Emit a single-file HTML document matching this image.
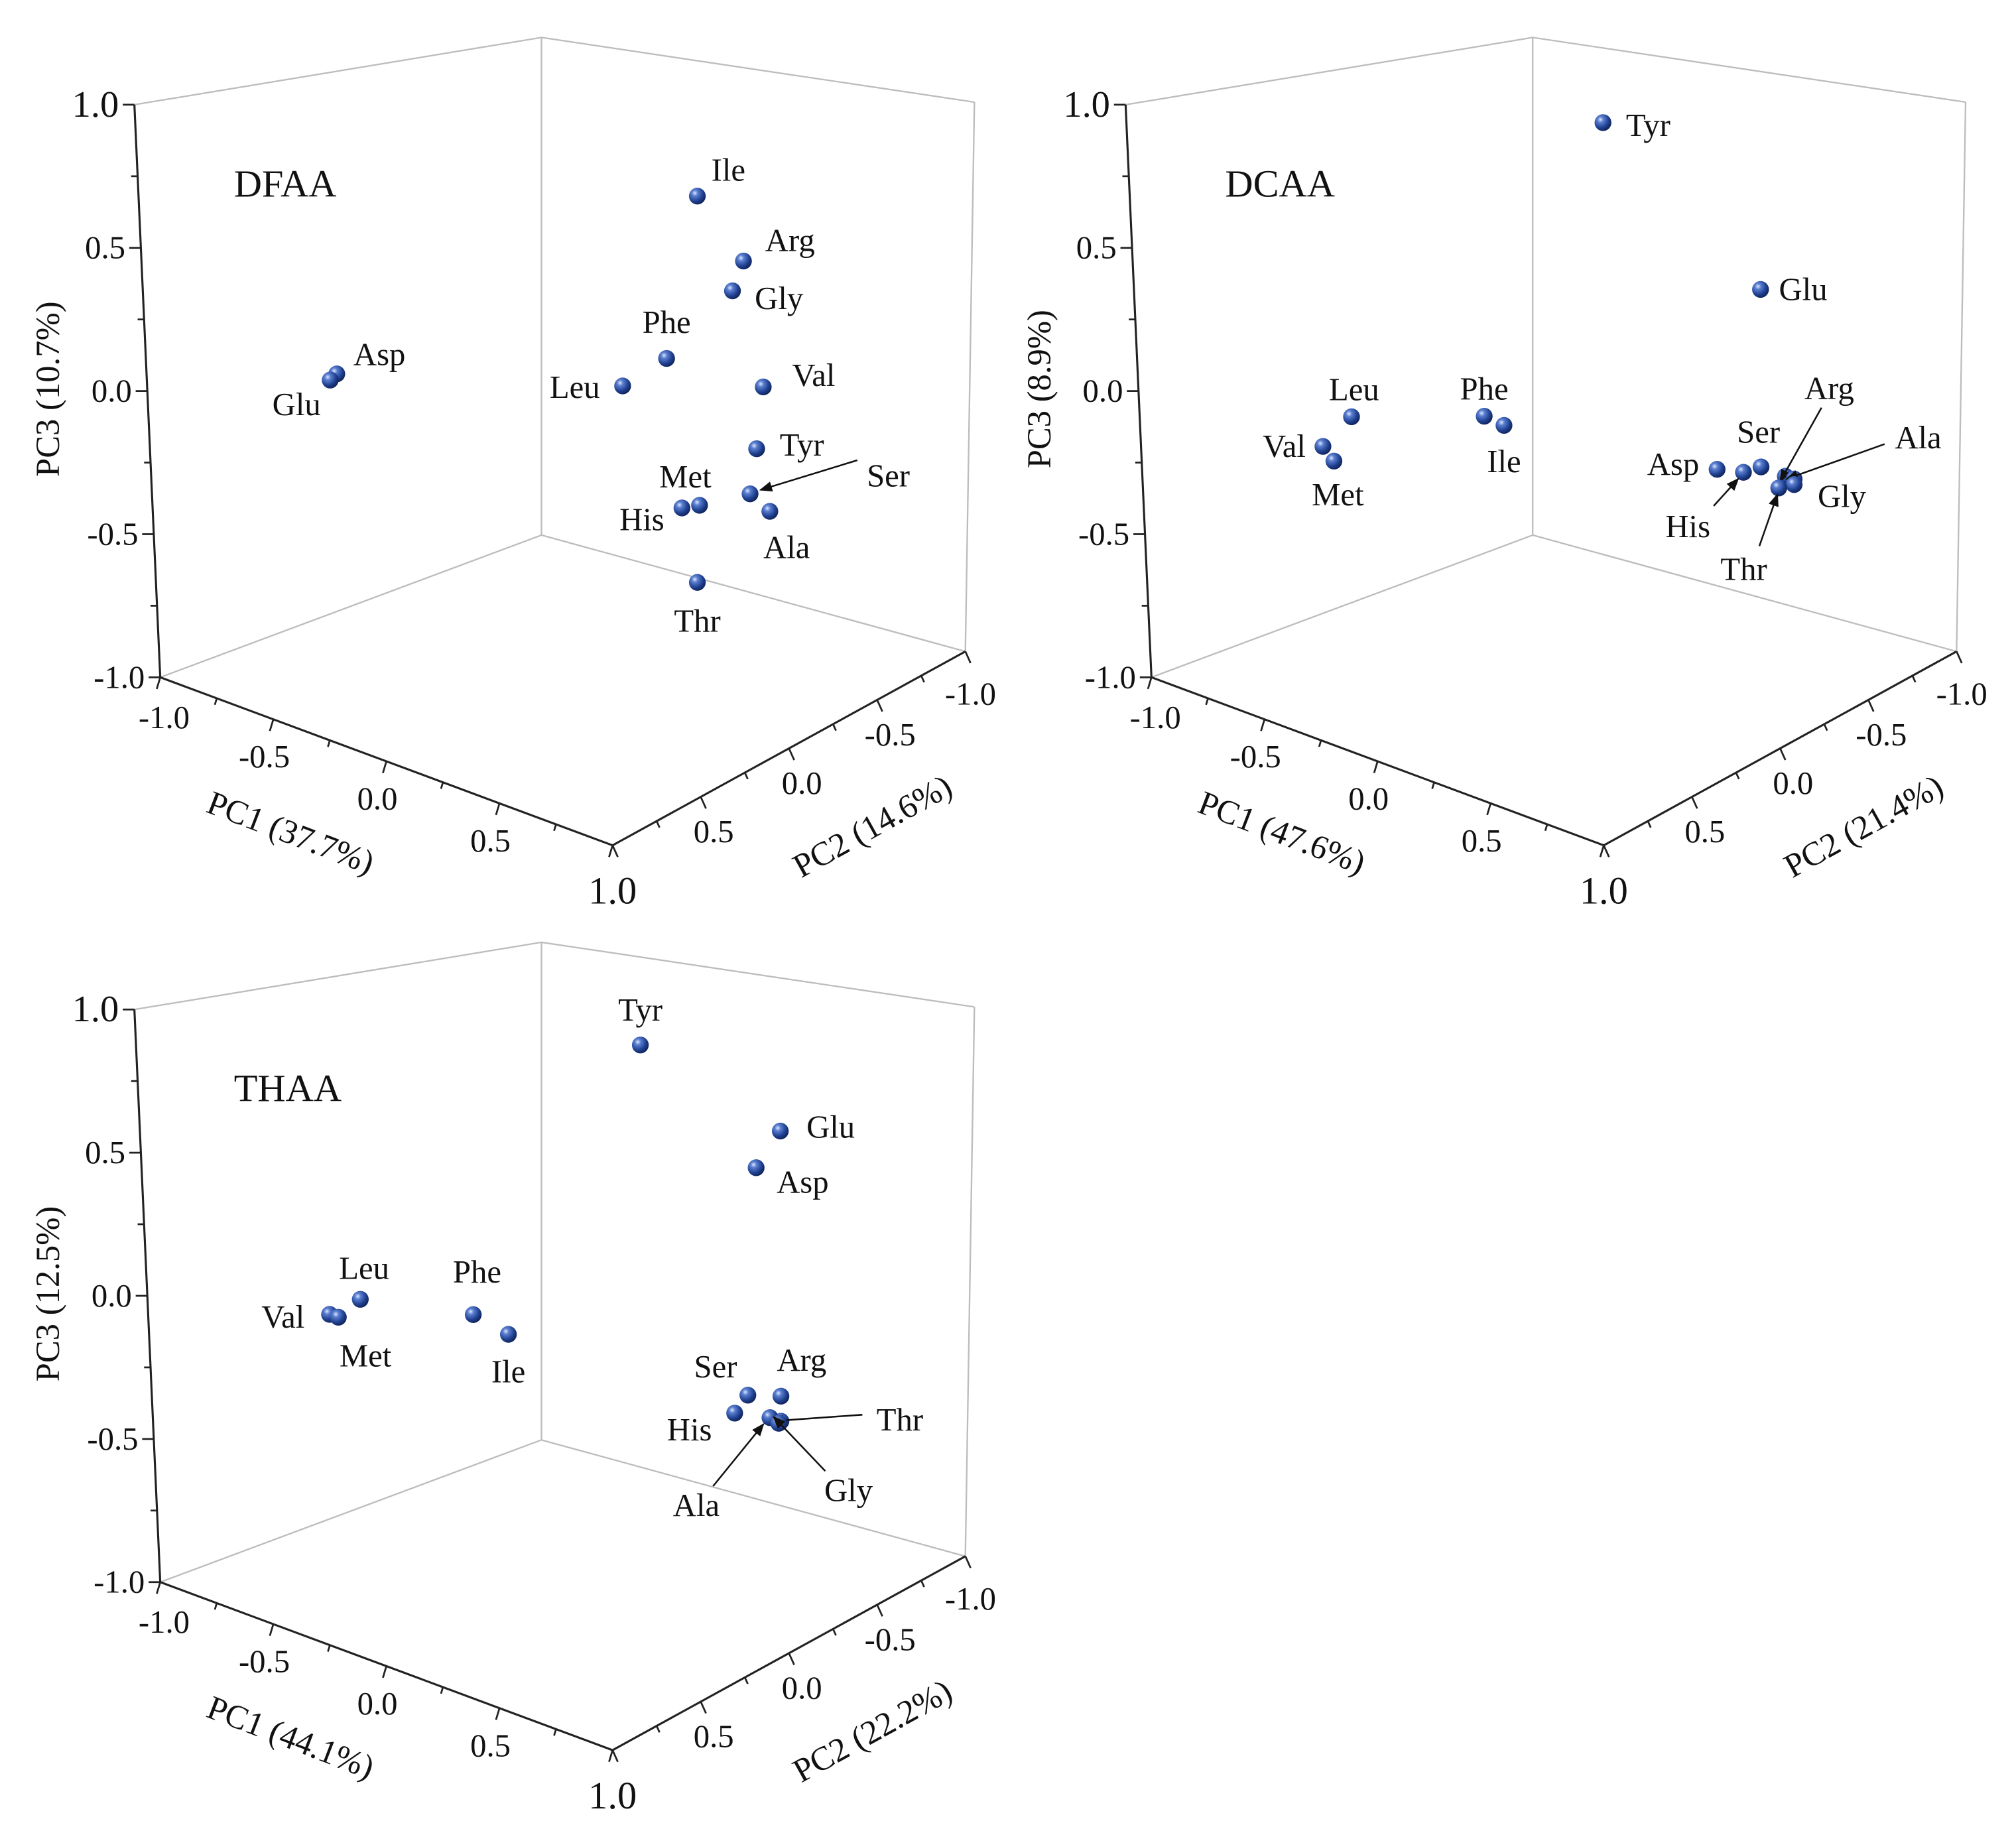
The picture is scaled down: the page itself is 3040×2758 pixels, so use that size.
<!DOCTYPE html>
<html><head><meta charset="utf-8"><style>
html,body{margin:0;padding:0;background:#fff}
svg{display:block}
text{font-family:"Liberation Serif",serif;fill:#111}
</style></head><body>
<svg id="chart" width="3040" height="2758" viewBox="0 0 1560 1415" preserveAspectRatio="none" xmlns="http://www.w3.org/2000/svg">
<defs>
<radialGradient id="sph" cx="0.35" cy="0.32" r="0.7">
<stop offset="0" stop-color="#dfe8ff"/><stop offset="0.25" stop-color="#5b7fd0"/><stop offset="0.7" stop-color="#1f3f8f"/><stop offset="1" stop-color="#10245a"/>
</radialGradient>
<marker id="arr" markerWidth="10" markerHeight="8" refX="9" refY="4" orient="auto" markerUnits="userSpaceOnUse"><path d="M0,0 L10,4 L0,8 Z" fill="#111"/></marker>
</defs>
</svg>
<script>
// ---- Data: panel names and axis titles ----
const panelNames = ["DFAA", "DCAA", "THAA"];
const pc1Titles = ["PC1 (37.7%)", "PC1 (47.6%)", "PC1 (44.1%)"];
const pc2Titles = ["PC2 (14.6%)", "PC2 (21.4%)", "PC2 (22.2%)"];
const pc3Titles = ["PC3 (10.7%)", "PC3 (8.9%)", "PC3 (12.5%)"];
const tickValues = [-1.0, -0.5, 0.0, 0.5, 1.0];
const tickLabels = ["-1.0", "-0.5", "0.0", "0.5", "1.0"];

// DFAA
const dfaaNames = ["Ile","Arg","Gly","Phe","Leu","Val","Tyr","Met","His","Ser","Ala","Thr","Asp","Glu"];
const dfaaPC1 = [0.58,0.79,0.74,0.44,0.24,0.88,0.85,0.59,0.51,0.82,0.91,0.58,-0.56,-0.59];
const dfaaPC2 = [0,0,0,0,0,0,0,0,0,0,0,0,0.6,0.6];
const dfaaPC3 = [0.88,0.70,0.58,0.26,0.11,0.27,0.04,-0.23,-0.26,-0.13,-0.17,-0.51,0.13,0.10];
// DCAA
const dcaaNames = ["Tyr","Glu","Leu","Val","Met","Phe","Ile","Asp","His","Ser","Arg","Ala","Gly","Thr"];
const dcaaPC1 = [-0.06,0.49,-0.62,-0.75,-0.70,-0.35,-0.26,0.71,0.83,0.91,0.77,0.81,0.81,0.74];
const dcaaPC2 = [-0.3,-0.5,0.4,0.4,0.4,0,0,0,0,0,-0.3,-0.3,-0.3,-0.3];
const dcaaPC3 = [0.89,0.37,-0.10,-0.24,-0.28,-0.15,-0.16,-0.07,-0.05,-0.01,-0.17,-0.17,-0.19,-0.22];
// THAA
const thaaNames = ["Tyr","Glu","Asp","Leu","Val","Met","Phe","Ile","Ser","His","Arg","Thr","Ala","Gly"];
const thaaPC1 = [0.07,0.54,0.43,-0.62,-0.76,-0.72,-0.44,-0.28,0.81,0.75,0.71,0.71,0.66,0.70];
const thaaPC2 = [-0.3,-0.5,-0.5,0.4,0.4,0.4,0,0,0,0,-0.3,-0.3,-0.3,-0.3];
const thaaPC3 = [0.86,0.61,0.45,-0.02,-0.11,-0.11,-0.15,-0.18,-0.12,-0.20,-0.24,-0.33,-0.33,-0.34];

// ---- layout (label offsets / arrows) ----
const layouts = [
 {Ile:[24,-20],Arg:[36,-16],Gly:[36,6],Phe:[0,-28],Leu:[-37,1],Val:[39,-9],Tyr:[35,-3],Met:[-11,-22],His:[-31,9],Ser:[107,-14,"a"],Ala:[13,28],Thr:[0,30],Asp:[33,-15],Glu:[-26,19]},
 {Tyr:[35,2],Glu:[33,0],Leu:[2,-21],Val:[-30,0],Met:[3,26],Phe:[0,-21],Ile:[0,28],Asp:[-34,-4],Ser:[-2,-27],Arg:[34,-68,"a"],Ala:[96,-32,"a"],Gly:[37,9],His:[-43,42,"a"],Thr:[-27,63,"a"]},
 {Tyr:[0,-27],Glu:[39,-3],Asp:[36,11],Leu:[3,-24],Val:[-36,2],Met:[21,30],Phe:[3,-33],Ile:[0,29],Ser:[-25,-22],His:[-35,13],Arg:[16,-28],Thr:[92,-1,"a"],Ala:[-57,68,"a"],Gly:[54,52,"a"]}
];
const arrowStarts = [
 {Ser:[-24,-12]},
 {Arg:[-6,15,-4,4],Ala:[-26,5,-6,0],His:[20,-16,-4,5],Thr:[12,-18,-1,5]},
 {Thr:[-29,-4,-7,0],Ala:[13,-15,-5,5],Gly:[-18,-15,-4,-5]}
];
const offsets = [[-1,-1],[766,-1],[-1,699]];
const svg = document.getElementById('chart');
const NS = "http://www.w3.org/2000/svg";
function mk(tag, attrs, parent){ const e=document.createElementNS(NS,tag); for(const k in attrs) e.setAttribute(k,attrs[k]); (parent||svg).appendChild(e); return e; }

// projection (axis functions)
function proj(p1,p2,p3,ox,oy){ return [ox+442+170*p1-142*p2, oy+310+55*p1+65*p2-215*p3]; }
function vAxis(v){ const t=(1-v)/2; return [105+20*t, 82+443*t]; }
function pc1Axis(v){ const t=(v+1)/2; return [125+350*t, 525+130*t]; }
function pc2Axis(v){ const t=(1-v)/2; return [475+273*t, 655-150*t]; }

const datasets = [[dfaaNames,dfaaPC1,dfaaPC2,dfaaPC3],[dcaaNames,dcaaPC1,dcaaPC2,dcaaPC3],[thaaNames,thaaPC1,thaaPC2,thaaPC3]];

for(let p=0;p<3;p++){
  const [ox,oy]=offsets[p];
  const g=mk('g',{transform:`translate(${ox},${oy})`});
  
  
  const grey=[[105,82,420,30],[420,30,755,80],[420,30,420,415],[755,80,748,505],[420,415,125,525],[420,415,748,505]];
  grey.forEach(l=>{ const e=mk('line',{x1:l[0],y1:l[1],x2:l[2],y2:l[3],stroke:'#bdbdbd','stroke-width':1.2},g);
      });
  const ax=[[105,82,125,525,'pc3-axis'],[125,525,475,655,'pc1-axis'],[475,655,748,505,'pc2-axis']];
  ax.forEach(l=>{ const e=mk('line',{x1:l[0],y1:l[1],x2:l[2],y2:l[3],stroke:'#222','stroke-width':1.6},g);
      });
  for(let i=0;i<9;i++){
    const v=-1+i*0.25, maj=(i%2===0), L=maj?9:5;
    let a=vAxis(v); mk('line',{x1:a[0],y1:a[1],x2:a[0]-L,y2:a[1],stroke:'#222','stroke-width':1.4},g);
    a=pc1Axis(v); mk('line',{x1:a[0],y1:a[1],x2:a[0]-L*0.3,y2:a[1]+L,stroke:'#222','stroke-width':1.4},g);
    a=pc2Axis(v); mk('line',{x1:a[0],y1:a[1],x2:a[0]+L*0.45,y2:a[1]+L,stroke:'#222','stroke-width':1.4},g);
  }
  tickValues.forEach((v,i)=>{
    const big = (i===4);
    let a=vAxis(v);
    let t=mk('text',{x:a[0]-12,y:a[1],'text-anchor':'end','dominant-baseline':'central','font-size':big?29:25},g);
    t.textContent=tickLabels[i];
     
    if(i<4){
      a=pc1Axis(v); const d=i===0?[3,31]:[-7,29];
      t=mk('text',{x:a[0]+d[0],y:a[1]+d[1],'text-anchor':'middle','dominant-baseline':'central','font-size':25},g);
      t.textContent=tickLabels[i];
       
    }
    a=pc2Axis(v); const d2=big?[0,35]:(i===0?[4,33]:[10,27]);
    t=mk('text',{x:a[0]+d2[0],y:a[1]+d2[1],'text-anchor':'middle','dominant-baseline':'central','font-size':big?30:25},g);
    t.textContent=tickLabels[i];
     
  });
  let t=mk('text',{x:0,y:0,'text-anchor':'middle','dominant-baseline':'central','font-size':26,transform:'translate(226,645) rotate(21)'},g);
  t.textContent=pc1Titles[p];  
  t=mk('text',{x:0,y:0,'text-anchor':'middle','dominant-baseline':'central','font-size':26,transform:'translate(676,640) rotate(-29)'},g);
  t.textContent=pc2Titles[p];  
  t=mk('text',{x:0,y:0,'text-anchor':'middle','dominant-baseline':'central','font-size':26,transform:'translate(38,302) rotate(-90)'},g);
  t.textContent=pc3Titles[p];  
  t=mk('text',{x:182,y:143,'dominant-baseline':'central','font-size':30},g);
  t.textContent=panelNames[p];  
  const [names,a1,a2,a3]=datasets[p];
  names.forEach((n,i)=>{
    const s=proj(a1[i],a2[i],a3[i],0,0);
    const c=mk('circle',{cx:s[0],cy:s[1],r:6.5,fill:'url(#sph)'},g);
     
    const lo=layouts[p][n]||[20,-15];
    const lt=mk('text',{x:s[0]+lo[0],y:s[1]+lo[1],'text-anchor':'middle','dominant-baseline':'central','font-size':25},g);
    lt.textContent=n;  
    const ar=arrowStarts[p][n];
    if(ar){
      const x1=s[0]+lo[0]+ar[0], y1=s[1]+lo[1]+ar[1];
      const x2=s[0]+(ar[2]!==undefined?ar[2]:8), y2=s[1]+(ar[3]!==undefined?ar[3]:-3);
      const l=mk('line',{x1:x1,y1:y1,x2:x2,y2:y2,stroke:'#111','stroke-width':1.3,'marker-end':'url(#arr)'},g);
       
    }
  });
}
</script>
</body></html>
